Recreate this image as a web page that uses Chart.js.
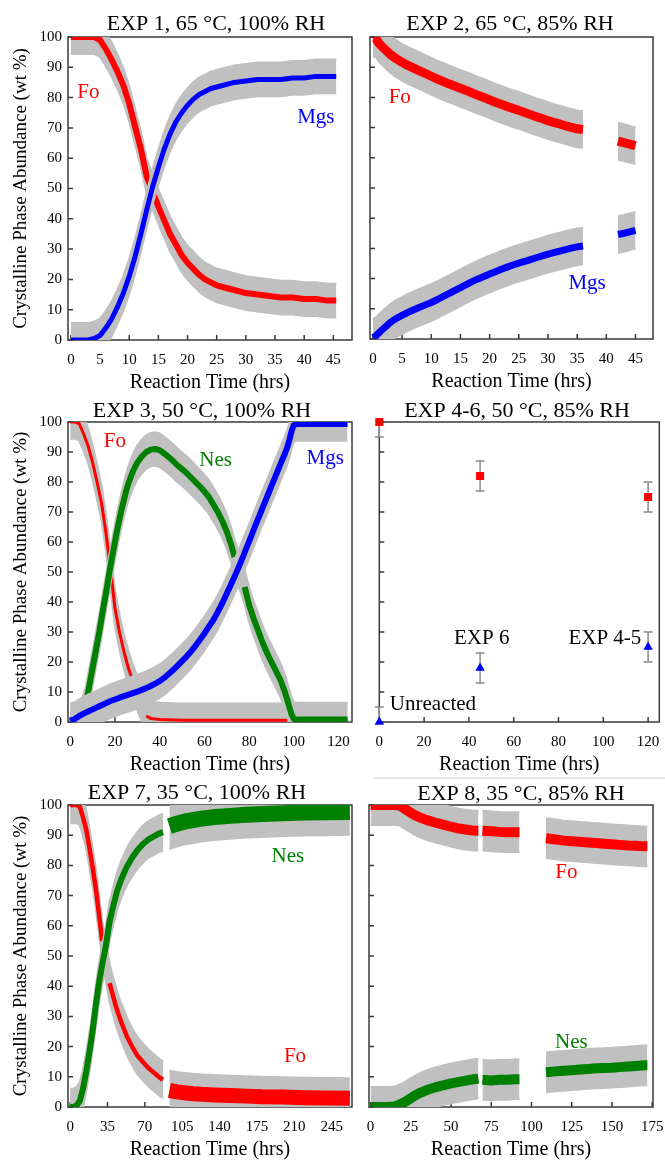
<!DOCTYPE html>
<html>
<head>
<meta charset="utf-8">
<script src="https://cdn.jsdelivr.net/npm/chart.js@4.4.0/dist/chart.umd.min.js"></script>
<style>
html,body{margin:0;padding:0;background:#fff;}
body{width:665px;height:1160px;position:relative;overflow:hidden;}
canvas{position:absolute;}
#sep{position:absolute;left:374px;top:777px;width:291px;height:2px;background:#e3e3e3;}
</style>
</head>
<body>
<canvas id="c1"></canvas>
<canvas id="c2"></canvas>
<canvas id="c3"></canvas>
<canvas id="c4"></canvas>
<canvas id="c5"></canvas>
<canvas id="c6"></canvas>
<div id="sep"></div>
<script>
// ---------------- DATA ----------------
const yTicks = [0,10,20,30,40,50,60,70,80,90,100];
const xTicks12 = [0,5,10,15,20,25,30,35,40,45];
const xTicks34 = [0,20,40,60,80,100,120];
const xTicks7 = [0,35,70,105,140,175,210,245];
const xTicks8 = [0,25,50,75,100,125,150,175];

// EXP 1, 65 °C, 100% RH
const exp1Time = [0,1,2,3,4,5,6,7,8,9,10,11,12,13,14,15,16,17,18,19,20,21,22,23,24,25,26,28,30,32,34,36,38,40,42,44,45.5];
const exp1Fo   = [100,100,100,100,100,99,96,92.5,88.5,84,78,70.5,63,54,49,44,39.5,35,31.5,28,25.5,23.5,21.5,20,19,18,17.5,16.5,15.5,15,14.5,14,14,13.5,13.5,13,13];
const exp1Mgs  = [0,0,0,0,0.5,1.5,4,7,11,15.5,21,27.5,35,43,50.5,57,63,68,72,75,77.5,79.5,81,82,83,83.5,84,85,85.5,86,86,86,86.5,86.5,87,87,87];

// EXP 2, 65 °C, 85% RH
const exp2Time = [0,0.5,1,2,3,4,5,6,7,8,9,10,11,12,13,14,15,16,17,18,19,20,21,22,23,24,25,26,27,28,29,30,31,32,33,34,35,36,39,42,43,44,45];
const exp2Fo   = [99.5,99.5,98,96,94.2,92.8,91.6,90.6,89.7,88.8,87.9,87,86.1,85.3,84.5,83.8,83,82.3,81.5,80.7,80,79.2,78.4,77.7,77,76.3,75.7,75,74.3,73.6,73,72.3,71.7,71.2,70.6,70.1,69.6,69.4,null,65.5,65,64.5,64];
const exp2Mgs  = [0.5,1,2,3.8,5.5,6.8,7.8,8.8,9.7,10.5,11.3,12.1,13,14,15,16,17,18,19,19.9,20.7,21.5,22.3,23.1,23.8,24.5,25.1,25.7,26.3,26.9,27.5,28.1,28.6,29.1,29.6,30.1,30.5,30.8,null,34.6,35,35.5,36];

// EXP 3, 50 °C, 100% RH
const exp3FoTime = [0,2,4,6,8,10,12,14,16,18,20,22,24,26,28,31,34,36,40,50,60,70,80,90,100,110,124];
const exp3Fo     = [100,100,99.5,96,92,86.5,80,73,63,51,38,30,23.5,18,13.5,null,2,1.2,0.8,0.6,0.6,0.6,0.6,0.6,0.6,0.6,0.6];
const exp3NesTime = [0,3,5,7,8,9,10,11,12,13,14,15,16,17,18,19,20,21,22,23,24,25,26,28,30,32,34,36,38,40,42,44,46,48,50,52,54,56,58,60,62,64,66,68,70,72,73.5,76,78,80,82,84,86,88,90,92,94,96,98,99,100,102,106,110,115,120,124];
const exp3Nes     = [0,0.5,1.5,6,10,14,18,22,26,30,34.5,39,43,47.5,52,56,60,64,67.5,71,74,77,79.5,83.5,86.5,88.5,90,90.8,91,90.6,89.5,88.3,87,85.5,84.3,83,81.5,80,78.5,76.8,75,72.5,70,67,63.5,59,55,null,45,39,34.5,30.5,26.5,23,20,17,14,10,5,2.5,1,0.8,0.8,0.8,0.8,0.8,0.8];
const exp3MgsTime = [0,2,4,6,8,10,12,14,16,18,20,22,24,26,28,30,32,34,36,38,40,42,44,46,48,50,52,54,56,58,60,62,64,66,68,70,72,74,76,78,80,82,84,86,88,90,92,94,96,97,98,99,100,101,104,110,115,120,124];
const exp3Mgs     = [0.5,1,2,2.8,3.5,4.2,4.9,5.6,6.3,7,7.5,8.1,8.6,9.1,9.6,10.1,10.7,11.3,12,12.8,13.6,14.7,16,17.3,18.8,20.3,21.8,23.5,25.4,27.4,29.5,31.8,34,36.7,39.6,42.8,46,49.3,52.8,56.5,60.2,64,67.7,71.4,75,78.7,82.3,86,89.5,91.5,94,97,99,99.3,99.3,99.3,99.3,99.3,99.3];

// EXP 4-6, 50 °C, 85% RH
const exp46Time = [0,45,120];
const exp46Fo   = [100,82,75];
const exp46Mgs  = [0,18,25];
const exp46Err  = [5,5,5];

// EXP 7, 35 °C, 100% RH (two measurement runs)
const exp7TimeA = [0,3,6,9,12,15,18,21,24,27,30,33.5,37,40,44,48,53,58,63,68,73,78,83,87];
const exp7FoA   = [100,100,100,99.5,96,92,86,79.5,72.5,64,55,null,41,37,32,28,23.5,20,17,15,13,11.5,10,9];
const exp7NesA  = [0,0,0.5,2,6,11.5,18,25,33.5,41,47,53.5,61.5,66,71.5,75.5,79.5,82.5,85,87,88.5,89.5,90.5,91];
const exp7TimeB = [93,100,107,115,123,135,150,165,180,200,220,240,262];
const exp7FoB   = [5.5,5,4.7,4.4,4.2,4,3.8,3.6,3.4,3.3,3.1,3,2.9];
const exp7NesB  = [93,93.8,94.5,95,95.5,96,96.4,96.8,97,97.3,97.5,97.6,97.7];

// EXP 8, 35 °C, 85% RH
const exp8Time = [0,5,10,15,18,21,24,27,30,35,40,45,50,55,60,64,67,68,69.5,75,80,85,90,92.5,100,109,115,120,125,130,135,140,145,150,155,160,165,170,172];
const exp8Fo   = [100,100,100,100,99.8,98.8,97.8,96.8,96,95,94.2,93.5,92.8,92.2,91.8,91.5,91.5,null,91.5,91.3,91.1,91,91,91,null,89,88.6,88.2,88,87.8,87.6,87.4,87.2,87,86.8,86.6,86.5,86.3,86.3];
const exp8Nes  = [0,0,0,0.2,0.8,1.6,2.6,3.6,4.5,5.6,6.5,7.2,7.8,8.3,8.8,9.2,9.4,null,9,8.8,9,9,9.2,9.2,null,11.5,11.8,12,12.2,12.4,12.6,12.8,12.9,13,13.2,13.4,13.6,13.8,13.8];

// ---------------- STYLE ----------------
const RED = '#ff0000', BLUE = '#0000ff', GREEN = '#008000', GRAY = '#c0c0c0', BAR = '#8a8a8a';
const FONT = "'Liberation Serif','Times New Roman',serif";
Chart.defaults.font.family = FONT;
Chart.defaults.color = '#000';

function pts(xs, ys, off) {
  return xs.map((x, i) => ({x: x, y: ys[i] == null ? null : ys[i] + off}));
}

// each series: grey error band (upper/lower with fill) then coloured trace on top
function buildDatasets(list) {
  const ds = [];
  list.forEach((s, k) => {
    const base = ds.length;
    const ord = 1000 - k * 3;
    const span = !!s.bandSpan;
    ds.push({data: pts(s.x, s.y, s.err), pointRadius: 0, borderColor: GRAY, borderWidth: 2.5,
             backgroundColor: GRAY, fill: base + 1, order: ord, tension: 0, spanGaps: span});
    ds.push({data: pts(s.x, s.y, -s.err), pointRadius: 0, borderColor: GRAY, borderWidth: 2.5,
             fill: false, order: ord - 1, tension: 0, spanGaps: span});
    ds.push({data: pts(s.x, s.y, 0), pointRadius: 0, borderColor: s.color, borderWidth: s.width,
             fill: false, order: ord - 2, tension: 0, borderJoinStyle: 'round', spanGaps: false});
  });
  return ds;
}

const panelDecor = {
  id: 'panelDecor',
  beforeDatasetsDraw(chart, args, o) {
    const {ctx, chartArea: a} = chart;
    const xs = chart.scales.x, ys = chart.scales.y;
    ctx.save();
    ctx.strokeStyle = '#3a3a3a';
    ctx.lineWidth = 1.5;
    ctx.strokeRect(a.left, a.top, a.right - a.left, a.bottom - a.top);
    ctx.beginPath();
    xs.ticks.forEach(t => { const p = xs.getPixelForValue(t.value); ctx.moveTo(p, a.bottom); ctx.lineTo(p, a.bottom - 5); });
    ys.ticks.forEach(t => { const p = ys.getPixelForValue(t.value); ctx.moveTo(a.left, p); ctx.lineTo(a.left + 5, p); });
    ctx.stroke();
    if (o.errorBars) {
      ctx.strokeStyle = BAR;
      ctx.lineWidth = 1.5;
      o.errorBars.forEach(eb => {
        chart.data.datasets[eb.dataset].data.forEach((d, i) => {
          const px = xs.getPixelForValue(d.x);
          const hi = Math.min(d.y + eb.err[i], ys.max), lo = Math.max(d.y - eb.err[i], ys.min);
          const p1 = ys.getPixelForValue(hi), p2 = ys.getPixelForValue(lo);
          ctx.beginPath();
          ctx.moveTo(px, p1); ctx.lineTo(px, p2);
          if (d.y + eb.err[i] <= ys.max) { ctx.moveTo(px - 4.5, p1); ctx.lineTo(px + 4.5, p1); }
          if (d.y - eb.err[i] >= ys.min) { ctx.moveTo(px - 4.5, p2); ctx.lineTo(px + 4.5, p2); }
          ctx.stroke();
        });
      });
    }
    ctx.restore();
  },
  afterDatasetsDraw(chart, args, o) {
    const {ctx} = chart;
    const xs = chart.scales.x, ys = chart.scales.y;
    ctx.save();
    ctx.textBaseline = 'middle';
    (o.labels || []).forEach(l => {
      ctx.font = '21px ' + FONT;
      ctx.fillStyle = l.color;
      ctx.textAlign = l.align || 'center';
      ctx.fillText(l.text, xs.getPixelForValue(l.x), ys.getPixelForValue(l.y));
    });
    ctx.font = '22px ' + FONT;
    ctx.fillStyle = '#000';
    ctx.textAlign = 'center';
    ctx.fillText(o.title, o.titleX, o.titleY);
    ctx.restore();
  }
};

const panels = [
  {id: 'c1', canvas: {x: 0, y: 0, w: 362, h: 396}, area: {l: 68, t: 37, r: 352, b: 340},
   xMin: -0.5, xMax: 48.2, xTicks: xTicks12, yLabels: true,
   title: 'EXP 1, 65 °C, 100% RH', titlePos: [216, 24],
   series: [
     {x: exp1Time, y: exp1Fo, err: 5.5, color: RED, width: 6},
     {x: exp1Time, y: exp1Mgs, err: 5.5, color: BLUE, width: 5}],
   labels: [{x: 3, y: 81.8, text: 'Fo', color: RED}, {x: 42, y: 73.3, text: 'Mgs', color: BLUE}]},
  {id: 'c2', canvas: {x: 362, y: 0, w: 303, h: 395}, area: {l: 370, t: 37, r: 653, b: 339},
   xMin: -0.5, xMax: 48, xTicks: xTicks12, yLabels: false,
   title: 'EXP 2, 65 °C, 85% RH', titlePos: [510, 24],
   series: [
     {x: exp2Time, y: exp2Fo, err: 6, color: RED, width: 9},
     {x: exp2Time, y: exp2Mgs, err: 6, color: BLUE, width: 7}],
   labels: [{x: 4.6, y: 80, text: 'Fo', color: RED}, {x: 36.7, y: 18.5, text: 'Mgs', color: BLUE}]},
  {id: 'c3', canvas: {x: 0, y: 396, w: 362, h: 382}, area: {l: 68, t: 422, r: 352, b: 722},
   xMin: -1, xMax: 126, xTicks: xTicks34, yLabels: true,
   title: 'EXP 3, 50 °C, 100% RH', titlePos: [202, 411],
   series: [
     {x: exp3FoTime, y: exp3Fo, err: 5.5, color: RED, width: 3, bandSpan: true},
     {x: exp3NesTime, y: exp3Nes, err: 5.5, color: GREEN, width: 6, bandSpan: true},
     {x: exp3MgsTime, y: exp3Mgs, err: 5.5, color: BLUE, width: 6}],
   labels: [{x: 20, y: 93.5, text: 'Fo', color: RED}, {x: 65, y: 87.3, text: 'Nes', color: GREEN},
            {x: 114, y: 88, text: 'Mgs', color: BLUE}]},
  {id: 'c4', canvas: {x: 362, y: 396, w: 303, h: 382}, area: {l: 379.3, t: 422, r: 663, b: 722},
   xMin: 0, xMax: 125, xTicks: xTicks34, yLabels: false,
   title: 'EXP 4-6, 50 °C, 85% RH', titlePos: [517, 411],
   points: true,
   labels: [{x: 45.7, y: 28, text: 'EXP 6', color: '#000'}, {x: 100.7, y: 28, text: 'EXP 4-5', color: '#000'},
            {x: 4.7, y: 5.7, text: 'Unreacted', color: '#000', align: 'left'}]},
  {id: 'c5', canvas: {x: 0, y: 778, w: 362, h: 385}, area: {l: 68, t: 805, r: 352, b: 1107},
   xMin: -2, xMax: 264, xTicks: xTicks7, yLabels: true,
   title: 'EXP 7, 35 °C, 100% RH', titlePos: [197, 793],
   series: [
     {x: exp7TimeA, y: exp7FoA, err: 6, color: RED, width: 4.5, bandSpan: true},
     {x: exp7TimeB, y: exp7FoB, err: 6.5, color: RED, width: 15},
     {x: exp7TimeA, y: exp7NesA, err: 6, color: GREEN, width: 6},
     {x: exp7TimeB, y: exp7NesB, err: 7.5, color: GREEN, width: 16}],
   labels: [{x: 204, y: 82.8, text: 'Nes', color: GREEN}, {x: 210.6, y: 16.6, text: 'Fo', color: RED}]},
  {id: 'c6', canvas: {x: 362, y: 778, w: 303, h: 385}, area: {l: 369, t: 805, r: 653, b: 1107},
   xMin: -1, xMax: 175.5, xTicks: xTicks8, yLabels: false,
   title: 'EXP 8, 35 °C, 85% RH', titlePos: [521, 794],
   series: [
     {x: exp8Time, y: exp8Fo, err: 6.5, color: RED, width: 10},
     {x: exp8Time, y: exp8Nes, err: 6.5, color: GREEN, width: 10}],
   labels: [{x: 121.7, y: 77.5, text: 'Fo', color: RED}, {x: 124.8, y: 21.2, text: 'Nes', color: GREEN}]}
];

function exp46Datasets() {
  return [
    {data: pts(exp46Time, exp46Fo, 0), showLine: false, pointStyle: 'rect', pointRadius: 5.7,
     backgroundColor: RED, borderColor: RED, borderWidth: 0, clip: false},
    {data: pts(exp46Time, exp46Mgs, 0), showLine: false, pointStyle: 'triangle', pointRadius: 5.5,
     backgroundColor: BLUE, borderColor: BLUE, borderWidth: 0, clip: false}
  ];
}

panels.forEach(p => {
  const cv = document.getElementById(p.id);
  cv.width = p.canvas.w; cv.height = p.canvas.h;
  cv.style.left = p.canvas.x + 'px'; cv.style.top = p.canvas.y + 'px';
  const datasets = p.points ? exp46Datasets() : buildDatasets(p.series);
  new Chart(cv, {
    type: 'line',
    data: {datasets: datasets},
    options: {
      responsive: false, animation: false, events: [], devicePixelRatio: 1,
      layout: {padding: {left: 0, top: p.area.t - p.canvas.y, right: p.canvas.x + p.canvas.w - p.area.r, bottom: 0}},
      plugins: {
        legend: {display: false}, tooltip: {enabled: false}, title: {display: false},
        panelDecor: {
          title: p.title, titleX: p.titlePos[0] - p.canvas.x, titleY: p.titlePos[1] - p.canvas.y,
          labels: p.labels,
          errorBars: p.points ? [{dataset: 0, err: exp46Err}, {dataset: 1, err: exp46Err}] : null
        }
      },
      scales: {
        x: {
          type: 'linear', min: p.xMin, max: p.xMax,
          afterBuildTicks: s => { s.ticks = p.xTicks.map(v => ({value: v})); },
          afterFit: s => { s.height = p.canvas.y + p.canvas.h - p.area.b; },
          grid: {display: false, drawTicks: false}, border: {display: false},
          ticks: {padding: 0, maxRotation: 0, autoSkip: false, font: {size: 15, lineHeight: 2.7}},
          title: {display: true, text: 'Reaction Time (hrs)', font: {size: 20}, padding: {top: 0, bottom: 1}}
        },
        y: {
          type: 'linear', min: 0, max: 100,
          afterBuildTicks: s => { s.ticks = yTicks.map(v => ({value: v})); },
          afterFit: s => { s.width = p.area.l - p.canvas.x; },
          grid: {display: false, drawTicks: false}, border: {display: false},
          ticks: {display: p.yLabels, padding: 6, font: {size: 15}},
          title: {display: p.yLabels, text: 'Crystalline Phase Abundance (wt %)', font: {size: 19}, padding: {top: 10, bottom: 0}}
        }
      }
    },
    plugins: [panelDecor]
  });
});
</script>
</body>
</html>
